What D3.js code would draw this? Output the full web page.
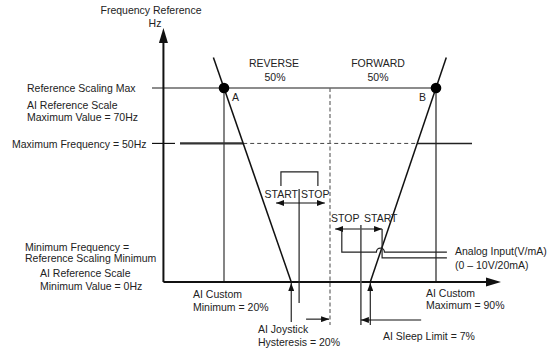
<!DOCTYPE html>
<html><head><meta charset="utf-8">
<script src="https://cdn.jsdelivr.net/npm/d3@7"></script>
<style>
body{margin:0;background:#fff}
svg text{font-family:Arial,"Liberation Sans",sans-serif;font-size:10.5px;fill:#222}
</style>
</head><body>
<svg id="c" width="548" height="350"></svg>
<script>
// ---- data (x: analog input %, y: frequency Hz) ----
const freqLevels = [0, 50, 70];            // min freq, max freq, reference scaling max
const inputMarks = [20, 55, 90];           // AI custom min, reverse/forward split, AI custom max
const reverseLine = [[16.5, 81], [42.2, 0]];
const forwardLine = [[93.4, 81], [68.3, 0]];
const joystickStartStop = [38.8, 51.0];    // START | STOP bracket (reverse side)
const joystickArrow = [37.2, 53.3];
const joystickCenter = 44.8;
const hysteresisArrow = [47.1, 54.7];
const sleepStopStart = [56.7, 72.2];       // STOP START arrow (forward side)
const sleepLimitLine = 65.2;
const sleepArrow = [85.1, 65.2];
const analogInLevels = [10.8, 8.7];
const analogInEnd = 93.6;
const labelsTop = ["REVERSE", "50%", "FORWARD", "50%"];

const svg = d3.select("#c");
const x = d3.scaleLinear().domain([20, 90]).range([224, 436]);
const y = d3.scaleLinear().domain([0, 70]).range([282, 88]);

const defs = svg.append("defs");
defs.append("marker").attr("id", "ah").attr("viewBox", "0 0 8 6")
  .attr("refX", 8).attr("refY", 3).attr("markerWidth", 8).attr("markerHeight", 6)
  .attr("markerUnits", "userSpaceOnUse").attr("orient", "auto-start-reverse")
  .append("path").attr("d", "M0,0 L8,3 L0,6 Z").attr("fill", "#111");

const line = (x1, y1, x2, y2, stroke = "#111", w = 1.2, dash = null) =>
  svg.append("line").attr("x1", x1).attr("y1", y1).attr("x2", x2).attr("y2", y2)
    .attr("stroke", stroke).attr("stroke-width", w).attr("stroke-dasharray", dash);

const x0 = x(0), yb = y(0);

// reference scaling max line & verticals
line(152, y(freqLevels[2]), x(inputMarks[2]), y(freqLevels[2]), "#666", 1.6);
line(x(inputMarks[0]), y(freqLevels[2]), x(inputMarks[0]), yb, "#666", 1.6);
line(x(inputMarks[2]), y(freqLevels[2]), x(inputMarks[2]), yb, "#222", 1.2);

// max frequency line
const atHz = (l, hz) => l[1][0] + (l[0][0] - l[1][0]) * hz / l[0][1];
const xr50 = x(atHz(reverseLine, freqLevels[1])), xf50 = x(atHz(forwardLine, freqLevels[1]));
const y50 = y(freqLevels[1]);
line(152, y50, 175, y50, "#111", 1.2);
line(180, y50, xr50, y50, "#333", 2.2);
line(xr50, y50, xf50, y50, "#444", 1, "4,3");
line(xf50, y50, 472, y50, "#222", 1.6);

// center dashed split
line(x(inputMarks[1]), y(freqLevels[2]), x(inputMarks[1]), y(-15.5), "#666", 1.2, "4,2.5");

// axes
line(x0, yb, x0, 40, "#111", 2);
svg.append("path").attr("d", `M${x0},28 L${x0 - 4.5},43 L${x0 + 4.5},43 Z`).attr("fill", "#111");
line(x0, yb, 490, yb, "#111", 2);
svg.append("path").attr("d", `M501,${yb} L486,${yb - 4.5} L486,${yb + 4.5} Z`).attr("fill", "#111");

// sloped lines
[reverseLine, forwardLine].forEach(l =>
  line(x(l[0][0]), y(l[0][1]), x(l[1][0]), y(l[1][1]), "#111", 1.5));

// dots
[inputMarks[0], inputMarks[2]].forEach(v =>
  svg.append("circle").attr("cx", x(v)).attr("cy", y(freqLevels[2])).attr("r", 5.3).attr("fill", "#000"));

// joystick hysteresis (reverse side)
svg.append("path").attr("fill", "none").attr("stroke", "#222").attr("stroke-width", 1.2)
  .attr("d", `M${x(joystickStartStop[0])},${y(34.6)} V${y(39.7)} H${x(joystickStartStop[1])} V${y(34.6)}`);
line(x(joystickCenter), y(33.6), x(joystickCenter), y(-7.6), "#222", 1.2);
line(x(joystickArrow[0]), y(28.5), x(joystickArrow[1]), y(28.5), "#111", 1.1)
  .attr("marker-start", "url(#ah)").attr("marker-end", "url(#ah)");
line(x(hysteresisArrow[0]), y(-13.4), x(hysteresisArrow[1]), y(-13.4), "#111", 1.1)
  .attr("marker-end", "url(#ah)");
line(x(reverseLine[1][0]), y(-14.4), x(reverseLine[1][0]), yb + 1, "#111", 1.1)
  .attr("marker-end", "url(#ah)");

// sleep (forward side)
line(x(sleepStopStart[0]), y(19.1), x(sleepStopStart[1]), y(19.1), "#111", 1.1)
  .attr("marker-start", "url(#ah)").attr("marker-end", "url(#ah)");
line(x(sleepLimitLine), y(20.6), x(sleepLimitLine), y(-15.5), "#555", 1.6);
const yA1 = y(analogInLevels[0]), yA2 = y(analogInLevels[1]);
const xHop = x(atHz(forwardLine, analogInLevels[0]));
svg.append("path").attr("fill", "none").attr("stroke", "#222").attr("stroke-width", 1.2)
  .attr("d", `M${x(58.9)},${y(19.1)} V${yA1} H${xHop - 4} A4,4 0 0 1 ${xHop + 4},${yA1} H${x(analogInEnd)}`);
svg.append("path").attr("fill", "none").attr("stroke", "#222").attr("stroke-width", 1.2)
  .attr("d", `M${x(sleepStopStart[1])},${y(19.1)} V${yA2} H${x(analogInEnd)}`);
line(x(forwardLine[1][0]), y(-15.5), x(forwardLine[1][0]), yb + 1, "#111", 1.1)
  .attr("marker-end", "url(#ah)");
line(x(sleepArrow[0]), y(-13.7), x(sleepArrow[1]), y(-13.7), "#111", 1.1)
  .attr("marker-end", "url(#ah)");

// texts
const t = (s, tx, ty, anchor = "start") =>
  svg.append("text").attr("x", tx).attr("y", ty).attr("text-anchor", anchor).text(s);
t("Frequency Reference", 151, 14, "middle");
t("Hz", 155, 27, "middle");
t(labelsTop[0], 274, 67, "middle");
t(labelsTop[1], 275, 81, "middle");
t(labelsTop[2], 378, 67, "middle");
t(labelsTop[3], 378, 81, "middle");
t("A", 232, 101);
t("B", 419, 101);
t("Reference Scaling Max", 27, 92);
t("AI Reference Scale", 27, 109);
t("Maximum Value = 70Hz", 27, 121);
t("Maximum Frequency = 50Hz", 12, 148);
t("Minimum Frequency =", 25, 251);
t("Reference Scaling Minimum", 25, 262);
t("AI Reference Scale", 40, 277);
t("Minimum Value = 0Hz", 40, 290);
t("AI Custom", 193, 298);
t("Minimum = 20%", 193, 311);
t("AI Joystick", 258, 333);
t("Hysteresis = 20%", 258, 346);
t("START", 298, 198, "end");
t("STOP", 301, 198);
t("STOP", 331, 222);
t("START", 364, 222);
t("Analog Input(V/mA)", 455, 255);
t("(0 – 10V/20mA)", 455, 269);
t("AI Custom", 426, 297);
t("Maximum = 90%", 426, 309);
t("AI Sleep Limit = 7%", 383, 340);
</script>
</body></html>
